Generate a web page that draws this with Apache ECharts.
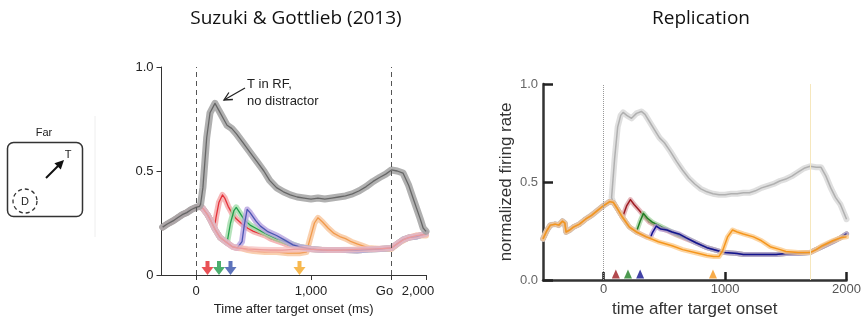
<!DOCTYPE html>
<html>
<head>
<meta charset="utf-8">
<script src="https://cdn.jsdelivr.net/npm/echarts@6/dist/echarts.min.js"></script>
<style>
  html, body { margin: 0; padding: 0; background: #fff; }
  #main { width: 864px; height: 323px; }
</style>
</head>
<body>
<div id="main"></div>
<script>
// ---------- Original study (left panel), time in ms, normalized rate ----------
const L_PRE_T = [-290, -250, -200, -160, -120, -80, -40, 0, 30];
const L_PRE_V = [0.23, 0.245, 0.26, 0.275, 0.29, 0.30, 0.315, 0.325, 0.33];

const L_DECAY_T = [60, 100, 130, 165, 210, 270, 320, 360, 400];
const L_DECAY_V = [0.32, 0.29, 0.26, 0.22, 0.18, 0.155, 0.135, 0.13, 0.128];

const L_LATE_T = [950, 1000, 1100, 1200, 1300, 1400, 1500, 1600, 1700, 1750, 1800, 1850, 1920, 2000];
const L_LATE_V = [0.13, 0.125, 0.12, 0.12, 0.12, 0.118, 0.122, 0.125, 0.13, 0.15, 0.17, 0.18, 0.185, 0.2];

const L_GRAY_T = [40, 60, 93, 122, 165, 200, 240, 270, 310, 350, 410, 470, 530, 590, 640, 700, 760, 820, 880, 940,
  1000, 1060, 1120, 1180, 1240, 1300, 1360, 1420, 1480, 1540, 1600, 1650, 1700, 1750, 1800, 1850, 1887, 1950, 1975, 2000];
const L_GRAY_V = [0.34, 0.42, 0.66, 0.78, 0.825, 0.79, 0.75, 0.72, 0.705, 0.68, 0.635, 0.59, 0.545, 0.50, 0.455, 0.42, 0.40, 0.385, 0.375, 0.37,
  0.365, 0.37, 0.365, 0.37, 0.375, 0.38, 0.39, 0.405, 0.425, 0.45, 0.47, 0.485, 0.505, 0.50, 0.49, 0.43, 0.37, 0.27, 0.226, 0.21];

const L_RED_T = [60, 100, 140, 160, 175, 200, 230, 250, 280, 310, 350, 400, 450, 500, 550, 600, 650, 700, 750, 800, 850, 900];
const L_RED_V = [0.32, 0.29, 0.25, 0.225, 0.28, 0.35, 0.385, 0.37, 0.33, 0.30, 0.27, 0.245, 0.225, 0.21, 0.20, 0.19, 0.175, 0.165, 0.155, 0.145, 0.14, 0.135];

const L_GREEN_T = [280, 300, 330, 350, 380, 420, 470, 520, 570, 620, 700, 780, 850, 900];
const L_GREEN_V = [0.16, 0.25, 0.31, 0.325, 0.30, 0.265, 0.24, 0.225, 0.21, 0.195, 0.175, 0.16, 0.145, 0.135];

const L_BLUE_T = [400, 420, 445, 470, 520, 560, 620, 700, 780, 843, 900];
const L_BLUE_V = [0.16, 0.24, 0.315, 0.30, 0.26, 0.235, 0.21, 0.19, 0.165, 0.145, 0.135];

const L_PINK_T = [450, 550, 650, 750, 850, 950, 1050, 1150, 1250, 1350, 1450, 1550, 1650, 1700, 1750, 1800, 1850, 1920, 2000];
const L_PINK_V = [0.125, 0.122, 0.12, 0.12, 0.123, 0.125, 0.122, 0.12, 0.12, 0.122, 0.125, 0.125, 0.128, 0.13, 0.15, 0.168, 0.18, 0.19, 0.195];

const L_ORANGE_T = [450, 500, 600, 700, 800, 900, 960, 990, 1030, 1060, 1100, 1150, 1200, 1250, 1300, 1350, 1400, 1450, 1500, 1600, 1700, 1780, 1850, 1920, 2000];
const L_ORANGE_V = [0.12, 0.115, 0.11, 0.11, 0.105, 0.105, 0.11, 0.17, 0.25, 0.275, 0.255, 0.225, 0.2, 0.185, 0.175, 0.16, 0.15, 0.14, 0.13, 0.125, 0.125, 0.16, 0.18, 0.19, 0.19];

const L_ONSETS = [100, 200, 300, 900];          // distractor onsets (arrows)
const L_X_TICKS = [0, 1000, 1700, 2000];         // 1700 = Go
const L_X_LABELS = ['0', '1,000', 'Go', '2,000'];

// ---------- Replication (right panel) ----------
const R_PRE_T = [-500, -470, -440, -400, -370, -340, -320, -310, -280, -250, -200, -150, -100, -50, 0, 50, 80];
const R_PRE_V = [0.21, 0.25, 0.28, 0.285, 0.28, 0.30, 0.29, 0.245, 0.255, 0.27, 0.285, 0.31, 0.33, 0.355, 0.38, 0.40, 0.395];

const R_DECAY_T = [106, 155, 212, 269, 351, 450, 563, 650, 784, 850, 906, 950];
const R_DECAY_V = [0.37, 0.32, 0.27, 0.245, 0.22, 0.195, 0.175, 0.155, 0.135, 0.125, 0.12, 0.12];

const R_LATE_T = [1000, 1100, 1150, 1250, 1350, 1420, 1500, 1600, 1700, 1750, 1800, 1886, 1950, 2000];
const R_LATE_V = [0.14, 0.135, 0.13, 0.13, 0.13, 0.13, 0.135, 0.135, 0.14, 0.155, 0.17, 0.195, 0.215, 0.235];

const R_GRAY_T = [65, 90, 115, 140, 160, 190, 229, 270, 310, 340, 375, 420, 460, 500, 550, 600, 650, 700, 750, 800, 850, 900, 950,
  1000, 1050, 1100, 1150, 1200, 1250, 1300, 1350, 1400, 1450, 1500, 1550, 1600, 1650, 1700, 1750, 1790, 1830, 1870, 1910, 1950, 2000];
const R_GRAY_V = [0.42, 0.62, 0.78, 0.84, 0.855, 0.84, 0.825, 0.85, 0.86, 0.845, 0.81, 0.765, 0.725, 0.70, 0.655, 0.605, 0.56, 0.52, 0.49, 0.465, 0.45, 0.44, 0.435,
  0.435, 0.44, 0.44, 0.445, 0.445, 0.455, 0.47, 0.48, 0.49, 0.505, 0.515, 0.53, 0.55, 0.57, 0.58, 0.575, 0.575, 0.53, 0.47, 0.42, 0.385, 0.31];

const R_RED_T = [165, 190, 220, 250, 294, 340, 376, 420, 470, 530, 600, 680, 760, 850, 963];
const R_RED_V = [0.33, 0.38, 0.41, 0.385, 0.355, 0.32, 0.295, 0.28, 0.265, 0.25, 0.23, 0.21, 0.19, 0.165, 0.145];

const R_GREEN_T = [280, 300, 327, 360, 400, 433, 480, 530, 600, 680, 760, 850, 963];
const R_GREEN_V = [0.25, 0.30, 0.34, 0.315, 0.295, 0.285, 0.27, 0.255, 0.235, 0.215, 0.19, 0.165, 0.145];

const R_BLUE_T = [384, 400, 433, 470, 520, 563, 620, 680, 760, 850, 963];
const R_BLUE_V = [0.215, 0.24, 0.275, 0.26, 0.255, 0.245, 0.235, 0.215, 0.19, 0.165, 0.145];

const R_ORANGE_T = [980, 1020, 1061, 1100, 1150, 1233, 1300, 1371, 1453, 1500, 1600, 1700, 1750, 1800, 1886, 1950, 2000];
const R_ORANGE_V = [0.15, 0.22, 0.255, 0.245, 0.235, 0.22, 0.20, 0.17, 0.155, 0.145, 0.14, 0.14, 0.155, 0.175, 0.2, 0.215, 0.22];

const R_ONSETS = [100, 200, 300, 900];
const R_X_TICKS = [0, 1000, 2000];

// ---------- helpers ----------
function pairs(t, v) { return t.map((x, i) => [x, v[i]]); }
function upTo(t, v, limit) {
  const idx = t.map((x, i) => i).filter(i => t[i] <= limit);
  return [idx.map(i => t[i]), idx.map(i => v[i])];
}
function join(...parts) {
  const T = [], V = [];
  parts.forEach(([t, v]) => { T.push(...t); V.push(...v); });
  return pairs(T, V);
}

const SANS = '"Liberation Sans", Arial, sans-serif';
const series = [];

// each condition: a wide translucent error band with the mean trace on top
function trace(grid, data, color, band, bandW, lineW, bandOpacity, extra) {
  series.push({
    type: 'line', xAxisIndex: grid, yAxisIndex: grid, data: data,
    symbol: 'none', silent: true, animation: false,
    lineStyle: { color: band, width: bandW, opacity: bandOpacity, cap: 'round', join: 'round' }
  });
  series.push(Object.assign({
    type: 'line', xAxisIndex: grid, yAxisIndex: grid, data: data,
    symbol: 'none', silent: true, animation: false,
    lineStyle: { color: color, width: lineW, join: 'round' }
  }, extra || {}));
}

// left panel traces
const lPre = [L_PRE_T, L_PRE_V];
trace(0, join(lPre, [L_DECAY_T, L_DECAY_V], [L_ORANGE_T, L_ORANGE_V]), '#f19a4c', '#f7c49a', 6, 1.3, 0.8);
trace(0, join(lPre, [L_RED_T, L_RED_V], [L_LATE_T, L_LATE_V]), '#e5323a', '#f4a6a8', 6, 1.3, 0.8);
trace(0, join(lPre, upTo(L_DECAY_T, L_DECAY_V, 270), [L_GREEN_T, L_GREEN_V], [L_LATE_T, L_LATE_V]), '#23a04c', '#a2dcaa', 6, 1.3, 0.8);
trace(0, join(lPre, upTo(L_DECAY_T, L_DECAY_V, 360), [L_BLUE_T, L_BLUE_V], [L_LATE_T, L_LATE_V]), '#4b54b4', '#b6a2e0', 6, 1.3, 0.8);
trace(0, join(lPre, [L_DECAY_T, L_DECAY_V], [L_PINK_T, L_PINK_V]), '#ee9a9a', '#f5baba', 6, 1.2, 0.7);
trace(0, join(lPre, [L_GRAY_T, L_GRAY_V]), '#666666', '#a2a2a2', 7, 1.3, 0.85, {
  markLine: {
    silent: true, symbol: 'none', animation: false, label: { show: false },
    lineStyle: { color: '#555', type: [5, 4], width: 1 },
    data: [{ xAxis: 0 }, { xAxis: 1700 }]
  }
});

// right panel traces
const rPre = [R_PRE_T, R_PRE_V];
trace(1, join(rPre, [R_GRAY_T, R_GRAY_V]), '#b0b0b0', '#dcdcdc', 6, 1.5, 0.9, {
  markLine: {
    silent: true, symbol: 'none', animation: false, label: { show: false },
    data: [
      { xAxis: 0, lineStyle: { color: '#999', type: 'dotted', width: 1 } },
      { xAxis: 1700, lineStyle: { color: '#f6e7bd', type: 'solid', width: 1 } }
    ]
  }
});
trace(1, join(rPre, upTo(R_DECAY_T, R_DECAY_V, 155), [R_RED_T, R_RED_V], [R_LATE_T, R_LATE_V]), '#9e1b22', '#d99aa0', 5, 1.5, 0.7);
trace(1, join(rPre, upTo(R_DECAY_T, R_DECAY_V, 269), [R_GREEN_T, R_GREEN_V], [R_LATE_T, R_LATE_V]), '#1f7f24', '#9ccf9a', 5, 1.5, 0.7);
trace(1, join(rPre, upTo(R_DECAY_T, R_DECAY_V, 351), [R_BLUE_T, R_BLUE_V], [R_LATE_T, R_LATE_V]), '#12128f', '#b195d6', 5, 1.5, 0.7);
trace(1, join(rPre, [R_DECAY_T, R_DECAY_V], [R_ORANGE_T, R_ORANGE_V]), '#f5961c', '#fbcb8c', 5, 1.5, 0.8);

// distractor onset markers
const L_ONSET_COLORS = ['#e4262c', '#1f9a4a', '#3550aa', '#f5a623'];
const R_ONSET_COLORS = ['#9e1b22', '#1f7f24', '#12128f', '#f5961c'];
series.push({
  type: 'scatter', xAxisIndex: 0, yAxisIndex: 0, silent: true, animation: false, clip: false,
  symbol: 'path://M4,0 L8,0 L8,6 L12,6 L6,14 L0,6 L4,6 Z',
  symbolSize: [12, 14], symbolOffset: [0, '-50%'], z: 5,
  data: L_ONSETS.map((t, i) => ({ value: [t, 0], itemStyle: { color: L_ONSET_COLORS[i] } }))
});
series.push({
  type: 'scatter', xAxisIndex: 1, yAxisIndex: 1, silent: true, animation: false, clip: false,
  symbol: 'triangle', symbolSize: [8, 9], symbolOffset: [0, -6], z: 5,
  data: R_ONSETS.map((t, i) => ({ value: [t, 0], itemStyle: { color: R_ONSET_COLORS[i] } }))
});

const TITLE_FONT = '"Open Sans", "Noto Sans", sans-serif';

const option = {
  backgroundColor: '#ffffff',
  animation: false,
  grid: [
    { left: 161.5, top: 67, width: 264.5, height: 208 },
    { left: 543, top: 84, width: 306, height: 200 }
  ],
  xAxis: [
    {
      gridIndex: 0, type: 'value', min: -300, max: 2000,
      splitLine: { show: false },
      axisLine: { show: true, onZero: false, lineStyle: { color: '#333', width: 1 } },
      axisTick: { show: true, customValues: L_X_TICKS, length: 5, lineStyle: { color: '#333' } },
      axisLabel: {
        customValues: L_X_TICKS, margin: 10, color: '#222', fontSize: 13, fontFamily: SANS,
        formatter: function (v) {
          const s = L_X_LABELS[L_X_TICKS.indexOf(v)];
          if (v === 1700) return '{go|' + s + '}';
          if (v === 2000) return '{k|' + s + '}';
          return s;
        },
        rich: {
          go: { fontSize: 13, fontFamily: SANS, color: '#222', padding: [0, 14, 0, 0] },
          k: { fontSize: 13, fontFamily: SANS, color: '#222', padding: [0, 16, 0, 0] }
        }
      },
      name: 'Time after target onset (ms)', nameLocation: 'middle', nameGap: 26,
      nameTextStyle: { color: '#222', fontSize: 13, fontFamily: SANS }
    },
    {
      gridIndex: 1, type: 'value', min: -500, max: 2000,
      splitLine: { show: false },
      axisLine: { show: true, onZero: false, lineStyle: { color: '#333', width: 2.5 } },
      axisTick: { show: true, customValues: R_X_TICKS, inside: true, length: 8, lineStyle: { color: '#222', width: 2.5 } },
      axisLabel: {
        customValues: R_X_TICKS, margin: 3, color: '#555', fontSize: 13, fontFamily: SANS,
        formatter: v => String(v)
      },
      name: 'time after target onset', nameLocation: 'middle', nameGap: 21,
      nameTextStyle: { color: '#333', fontSize: 17, fontFamily: SANS }
    }
  ],
  yAxis: [
    {
      gridIndex: 0, type: 'value', min: 0, max: 1, interval: 0.5,
      splitLine: { show: false },
      axisLine: { show: true, onZero: false, lineStyle: { color: '#333', width: 1 } },
      axisTick: { show: true, length: 5, lineStyle: { color: '#333' } },
      axisLabel: {
        margin: 8, color: '#222', fontSize: 13, fontFamily: SANS,
        formatter: v => (v === 0 ? '0' : v.toFixed(1))
      }
    },
    {
      gridIndex: 1, type: 'value', min: 0, max: 1, interval: 0.5,
      splitLine: { show: false },
      axisLine: { show: true, onZero: false, lineStyle: { color: '#333', width: 2.5 } },
      axisTick: { show: true, inside: true, length: 10, lineStyle: { color: '#222', width: 2.5 } },
      axisLabel: {
        margin: 5, color: '#666', fontSize: 13, fontFamily: SANS,
        formatter: v => v.toFixed(1)
      },
      name: 'normalized firing rate', nameLocation: 'middle', nameGap: 28,
      nameTextStyle: { color: '#333', fontSize: 17, fontFamily: SANS }
    }
  ],
  series: series,
  graphic: [
    // panel titles
    { type: 'text', x: 296, y: 19, style: { text: 'Suzuki & Gottlieb (2013)', fontSize: 19, fontFamily: TITLE_FONT, fill: '#111', align: 'center', verticalAlign: 'middle' } },
    { type: 'text', x: 701, y: 19, style: { text: 'Replication', fontSize: 19, fontFamily: TITLE_FONT, fill: '#111', align: 'center', verticalAlign: 'middle' } },

    // task layout sketch: target in RF, distractor far away
    { type: 'line', shape: { x1: 95, y1: 116, x2: 95, y2: 237 }, style: { stroke: '#eeeeee', lineWidth: 1 } },
    { type: 'text', x: 44, y: 133, style: { text: 'Far', fontSize: 11, fontFamily: SANS, fill: '#222', align: 'center', verticalAlign: 'middle' } },
    { type: 'rect', shape: { x: 7.5, y: 142.5, width: 75, height: 74, r: 6 }, style: { fill: 'none', stroke: '#333', lineWidth: 1.5 } },
    { type: 'line', shape: { x1: 46, y1: 178, x2: 58, y2: 166 }, style: { stroke: '#111', lineWidth: 2 } },
    { type: 'polygon', shape: { points: [[64, 160], [60.8, 169.6], [54.4, 163.2]] }, style: { fill: '#111' } },
    { type: 'text', x: 68, y: 155, style: { text: 'T', fontSize: 11, fontFamily: SANS, fill: '#222', align: 'center', verticalAlign: 'middle' } },
    { type: 'circle', shape: { cx: 25, cy: 201, r: 12 }, style: { fill: 'none', stroke: '#333', lineWidth: 1.3, lineDash: [4, 3] } },
    { type: 'text', x: 25, y: 202, style: { text: 'D', fontSize: 11, fontFamily: SANS, fill: '#222', align: 'center', verticalAlign: 'middle' } },

    // annotation of the no-distractor trace
    { type: 'text', x: 247, y: 76, style: { text: 'T in RF,\nno distractor', fontSize: 13, lineHeight: 17, fontFamily: SANS, fill: '#222' } },
    { type: 'line', shape: { x1: 245, y1: 88, x2: 224, y2: 100 }, style: { stroke: '#222', lineWidth: 1.3 } },
    { type: 'polyline', shape: { points: [[232.9, 99.5], [224, 100], [228.9, 92.5]] }, style: { stroke: '#222', lineWidth: 1.3, fill: 'none' } }
  ]
};

const chart = echarts.init(document.getElementById('main'), null, { renderer: 'canvas' });
chart.setOption(option);
</script>
</body>
</html>
